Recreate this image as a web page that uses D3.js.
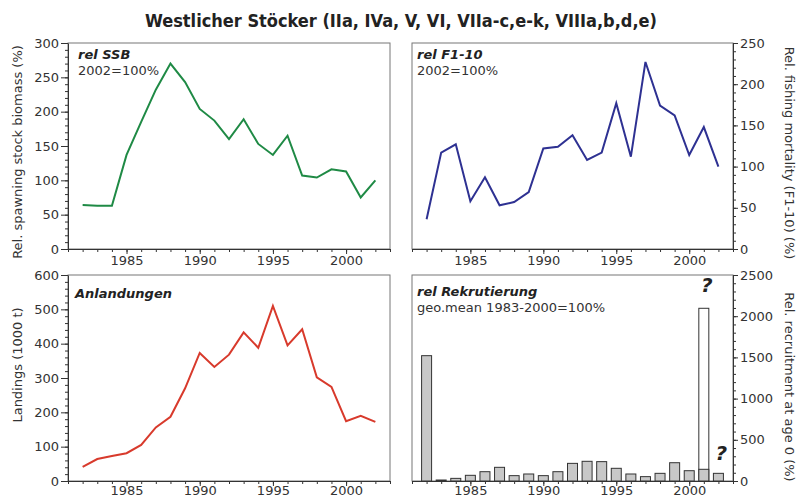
<!DOCTYPE html>
<html>
<head>
<meta charset="utf-8">
<script src="https://cdn.jsdelivr.net/npm/d3@7"></script>
<style>
  body { margin: 0; background: #fff; }
  svg { display: block; }
  text { font-family: "DejaVu Sans", Verdana, sans-serif; fill: #333; }
</style>
</head>
<body>
<div id="chart"></div>
<script>
// data
const years = [1982, 1983, 1984, 1985, 1986, 1987, 1988, 1989, 1990, 1991, 1992,
               1993, 1994, 1995, 1996, 1997, 1998, 1999, 2000, 2001, 2002];
const ssb = [64, 63, 63, 137, 185, 232, 270, 243, 204, 187, 160,
             189, 153, 137, 165, 107, 104, 116, 113, 75, 100];
const fishingMortality = [36, 117, 127, 58, 87, 53, 57, 69, 122, 124, 138,
                          108, 117, 177, 112, 227, 174, 162, 114, 148, 100];
const landings = [41, 64, 73, 81, 105, 156, 187, 270, 373, 332, 368,
                  433, 388, 510, 395, 442, 302, 274, 174, 190, 172];
const recruitment = [1521, 12, 32, 69, 113, 166, 65, 85, 65, 113, 214,
                     239, 235, 154, 85, 53, 93, 222, 125, 142, 93];
// uncertain estimate (white bar) and question marks
const uncertainYears = [2001];
const uncertainValues = [2096];
const questionYears = [2001, 2002];
const questionValues = [2290, 260];

const xTicks = [1985, 1990, 1995, 2000];

const width = 797, height = 497;

const svg = d3.select('#chart')
  .append('svg')
    .attr('width', width)
    .attr('height', height);

svg.append('text')
  .attr('x', 401)
  .attr('y', 27)
  .attr('text-anchor', 'middle')
  .style('font-family', '"Liberation Sans Narrow", "DejaVu Sans Condensed", sans-serif')
  .style('font-weight', 'bold')
  .style('font-size', '18px')
  .style('fill', '#222')
  .text('Westlicher Stöcker (IIa, IVa, V, VI, VIIa-c,e-k, VIIIa,b,d,e)');

// draws frame + axes for one panel, returns the scales
function makePanel(p) {
  const x = d3.scaleLinear()
    .domain([1981, 2003])
    .range([p.left, p.right]);
  const y = d3.scaleLinear()
    .domain([0, p.yMax])
    .range([p.bottom, p.top]);

  const g = svg.append('g');

  // frame
  g.append('rect')
    .attr('x', p.left)
    .attr('y', p.top)
    .attr('width', p.right - p.left)
    .attr('height', p.bottom - p.top)
    .style('fill', 'none')
    .style('stroke', '#777')
    .style('stroke-width', 1);

  // x axis: minor ticks every year, labels every 5
  g.append('g')
    .attr('transform', `translate(0, ${p.bottom})`)
    .call(d3.axisBottom(x).tickValues(d3.range(1981, 2004)).tickSize(3).tickFormat(''))
    .call(a => a.select('.domain').remove());
  g.append('g')
    .attr('transform', `translate(0, ${p.bottom})`)
    .call(d3.axisBottom(x).tickValues(xTicks).tickSize(5).tickSizeOuter(0)
      .tickFormat(d3.format('d')).tickPadding(p.xPad))
    .call(a => a.selectAll('text').style('font-size', '13px'));

  // y axis
  const isLeft = p.side === 'left';
  const xPos = isLeft ? p.left : p.right;
  const axisFn = isLeft ? d3.axisLeft : d3.axisRight;
  g.append('g')
    .attr('transform', `translate(${xPos}, 0)`)
    .call(axisFn(y).tickValues(d3.range(0, p.yMax + 1, p.minor)).tickSize(3).tickFormat(''))
    .call(a => a.select('.domain').remove());
  g.append('g')
    .attr('transform', `translate(${xPos}, 0)`)
    .call(axisFn(y).tickValues(d3.range(0, p.yMax + 1, p.major)).tickSize(isLeft ? 7 : 5)
      .tickSizeOuter(0).tickPadding(2).tickFormat(d3.format('d')))
    .call(a => a.selectAll('text').style('font-size', '13px'));

  g.selectAll('.domain, .tick line').style('stroke', '#333');

  // axis title
  const lx = isLeft ? 22 : 785;
  g.append('text')
    .attr('transform', `translate(${lx}, ${p.labelCenter}) rotate(${isLeft ? -90 : 90})`)
    .attr('text-anchor', 'middle')
    .style('font-size', '13px')
    .text(p.label);

  // in-panel captions
  g.append('text')
    .attr('x', p.captionX)
    .attr('y', p.captionY)
    .style('font-size', '13px')
    .style('font-weight', 'bold')
    .style('font-style', 'italic')
    .style('fill', '#222')
    .text(p.caption);
  if (p.sub) {
    g.append('text')
      .attr('x', p.captionX)
      .attr('y', p.captionY + 16)
      .style('font-size', '13px')
      .text(p.sub);
  }
  return {x, y, g};
}

function drawLine(panel, values, color) {
  const line = d3.line()
    .x((d, i) => panel.x(years[i]))
    .y(d => panel.y(d));
  panel.g.append('path')
    .datum(values)
    .attr('d', line)
    .style('fill', 'none')
    .style('stroke', color)
    .style('stroke-width', 2)
    .style('stroke-linejoin', 'miter');
}

// top left: SSB
const p1 = makePanel({
  left: 68, right: 390, top: 43, bottom: 249, yMax: 300, major: 50, minor: 10, xPad: 2,
  side: 'left', label: 'Rel. spawning stock biomass (%)', labelCenter: 152,
  caption: 'rel SSB', sub: '2002=100%', captionX: 78, captionY: 59
});
drawLine(p1, ssb, '#1f8a45');

// top right: F
const p2 = makePanel({
  left: 412, right: 733, top: 43, bottom: 249, yMax: 250, major: 50, minor: 10, xPad: 2,
  side: 'right', label: 'Rel. fishing mortality (F1-10) (%)', labelCenter: 153,
  caption: 'rel F1-10', sub: '2002=100%', captionX: 417, captionY: 59
});
drawLine(p2, fishingMortality, '#2e3192');

// bottom left: landings
const p3 = makePanel({
  left: 68, right: 390, top: 275, bottom: 481, yMax: 600, major: 100, minor: 20, xPad: 0,
  side: 'left', label: 'Landings (1000 t)', labelCenter: 365,
  caption: 'Anlandungen', captionX: 75, captionY: 298
});
drawLine(p3, landings, '#d83a2c');

// bottom right: recruitment bars
const p4 = makePanel({
  left: 412, right: 733, top: 275, bottom: 481, yMax: 2500, major: 500, minor: 100, xPad: 0,
  side: 'right', label: 'Rel. recruitment at age 0 (%)', labelCenter: 387,
  caption: 'rel Rekrutierung', sub: 'geo.mean 1983-2000=100%', captionX: 417, captionY: 296
});
const barW = 10;
p4.g.selectAll('.uncertain')
  .data(uncertainYears)
  .enter()
  .append('rect')
    .attr('x', d => p4.x(d) - barW / 2)
    .attr('y', (d, i) => p4.y(uncertainValues[i]))
    .attr('width', barW)
    .attr('height', (d, i) => p4.y(0) - p4.y(uncertainValues[i]))
    .style('fill', '#fff')
    .style('stroke', '#333')
    .style('stroke-width', 1);
p4.g.selectAll('.bar')
  .data(recruitment)
  .enter()
  .append('rect')
    .attr('x', (d, i) => p4.x(years[i]) - barW / 2)
    .attr('y', d => p4.y(d))
    .attr('width', barW)
    .attr('height', d => p4.y(0) - p4.y(d))
    .style('fill', '#c8c8c8')
    .style('stroke', '#333')
    .style('stroke-width', 1);
p4.g.selectAll('.question')
  .data(questionYears)
  .enter()
  .append('text')
    .attr('x', d => p4.x(d) + 3)
    .attr('y', (d, i) => p4.y(questionValues[i]))
    .attr('text-anchor', 'middle')
    .style('font-size', '20px')
    .style('font-weight', 'bold')
    .style('font-style', 'italic')
    .style('fill', '#222')
    .text('?');
</script>
</body>
</html>
